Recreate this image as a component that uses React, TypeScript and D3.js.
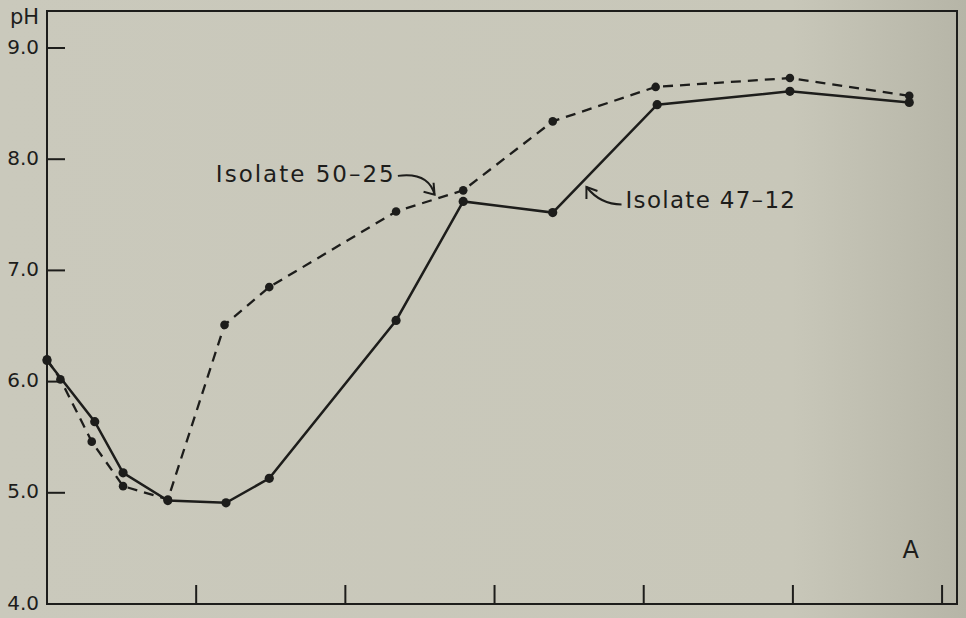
import React from "react";
import * as d3 from "d3";

// Time axis positions (tick units) and pH readings for the two isolates
const isolate4712X = [0, 0.32, 0.51, 0.81, 1.2, 1.49, 2.34, 2.79, 3.39, 4.09, 4.98, 5.78];
const isolate4712pH = [6.19, 5.64, 5.18, 4.93, 4.91, 5.13, 6.55, 7.62, 7.52, 8.49, 8.61, 8.51];

const isolate5025X = [0, 0.09, 0.3, 0.51, 0.81, 1.19, 1.49, 2.34, 2.79, 3.39, 4.08, 4.98, 5.78];
const isolate5025pH = [6.2, 6.02, 5.46, 5.06, 4.94, 6.51, 6.85, 7.53, 7.72, 8.34, 8.65, 8.73, 8.57];

const yTicks = [4, 5, 6, 7, 8, 9];
const xTicks = [1, 2, 3, 4, 5, 6];

const W = 966;
const H = 618;
const INK = "#1d1d1b";
const FONT = "'DejaVu Sans', sans-serif";

export default function App() {
  const x = d3.scaleLinear().domain([0, 6.1]).range([47, 957]);
  const y = d3.scaleLinear().domain([4, 9]).range([604, 48]);
  const yTop = y(9.332);

  const solid = isolate4712X.map((v, i) => [v, isolate4712pH[i]] as [number, number]);
  const dashed = isolate5025X.map((v, i) => [v, isolate5025pH[i]] as [number, number]);
  const line = d3
    .line<[number, number]>()
    .x((d) => x(d[0]))
    .y((d) => y(d[1]));

  // label anchors in data units
  const lab5025 = { x: x(1.132), y: y(7.85) };
  const tip5025 = { x: x(2.598), y: y(7.68) };
  const lab4712 = { x: x(3.878), y: y(7.62) };
  const tip4712 = { x: x(3.616), y: y(7.75) };

  return (
    <div style={{ position: "fixed", left: 0, top: 0, width: W, height: H }}>
      <svg width={W} height={H} style={{ display: "block" }}>
        <defs>
          <linearGradient id="paper" x1="0" x2="1" y1="0" y2="0">
            <stop offset="0" stopColor="#cac9bc" />
            <stop offset="0.82" stopColor="#c8c7b9" />
            <stop offset="1" stopColor="#b6b5a7" />
          </linearGradient>
        </defs>
        <rect width={W} height={H} fill="url(#paper)" />

        {/* frame */}
        <path
          d={`M${x(0)},${y(4)}V${yTop}H${x(6.1)}V${y(4)}Z`}
          fill="none"
          stroke={INK}
          strokeWidth={2}
        />

        {/* y ticks and labels */}
        {yTicks.map((t) => (
          <g key={t}>
            {t > 4 && (
              <line x1={x(0)} x2={x(0) + 18} y1={y(t)} y2={y(t)} stroke={INK} strokeWidth={2} />
            )}
            <text
              x={39}
              y={y(t)}
              textAnchor="end"
              dominantBaseline="middle"
              fontFamily={FONT}
              fontSize={20}
              fill={INK}
            >
              {t.toFixed(1)}
            </text>
          </g>
        ))}
        <text x={39} y={18} textAnchor="end" dominantBaseline="middle" fontFamily={FONT} fontSize={21} fill={INK}>
          pH
        </text>

        {/* x ticks */}
        {xTicks.map((t) => (
          <line key={t} x1={x(t)} x2={x(t)} y1={y(4)} y2={y(4) - 19} stroke={INK} strokeWidth={2} />
        ))}

        {/* series */}
        <path d={line(dashed) || ""} fill="none" stroke={INK} strokeWidth={2.3} strokeDasharray="10 7" />
        <path d={line(solid) || ""} fill="none" stroke={INK} strokeWidth={2.5} />
        {dashed.map((d, i) => (
          <circle key={"d" + i} cx={x(d[0])} cy={y(d[1])} r={4.3} fill={INK} />
        ))}
        {solid.map((d, i) => (
          <circle key={"s" + i} cx={x(d[0])} cy={y(d[1])} r={4.6} fill={INK} />
        ))}

        {/* annotations */}
        <text
          x={lab5025.x}
          y={lab5025.y}
          dominantBaseline="middle"
          fontFamily={FONT}
          fontSize={23}
          letterSpacing={2}
          fill={INK}
        >
          Isolate 50–25
        </text>
        <path
          d={`M${lab5025.x + 182},${lab5025.y} Q${tip5025.x - 6},${lab5025.y - 4} ${tip5025.x},${tip5025.y}`}
          fill="none"
          stroke={INK}
          strokeWidth={2}
        />
        <path
          d={`M${tip5025.x - 11},${tip5025.y - 3} L${tip5025.x},${tip5025.y} L${tip5025.x - 1},${tip5025.y - 12}`}
          fill="none"
          stroke={INK}
          strokeWidth={2}
        />

        <text
          x={lab4712.x}
          y={lab4712.y}
          dominantBaseline="middle"
          fontFamily={FONT}
          fontSize={23}
          letterSpacing={1.3}
          fill={INK}
        >
          Isolate 47–12
        </text>
        <path
          d={`M${lab4712.x - 4},${lab4712.y + 3} Q${tip4712.x + 14},${lab4712.y + 3} ${tip4712.x},${tip4712.y}`}
          fill="none"
          stroke={INK}
          strokeWidth={2}
        />
        <path
          d={`M${tip4712.x},${tip4712.y + 12} L${tip4712.x},${tip4712.y} L${tip4712.x + 11},${tip4712.y + 4}`}
          fill="none"
          stroke={INK}
          strokeWidth={2}
        />

        <text
          x={x(5.79)}
          y={y(4.476)}
          textAnchor="middle"
          dominantBaseline="middle"
          fontFamily={FONT}
          fontSize={24}
          fill={INK}
        >
          A
        </text>
      </svg>
    </div>
  );
}
